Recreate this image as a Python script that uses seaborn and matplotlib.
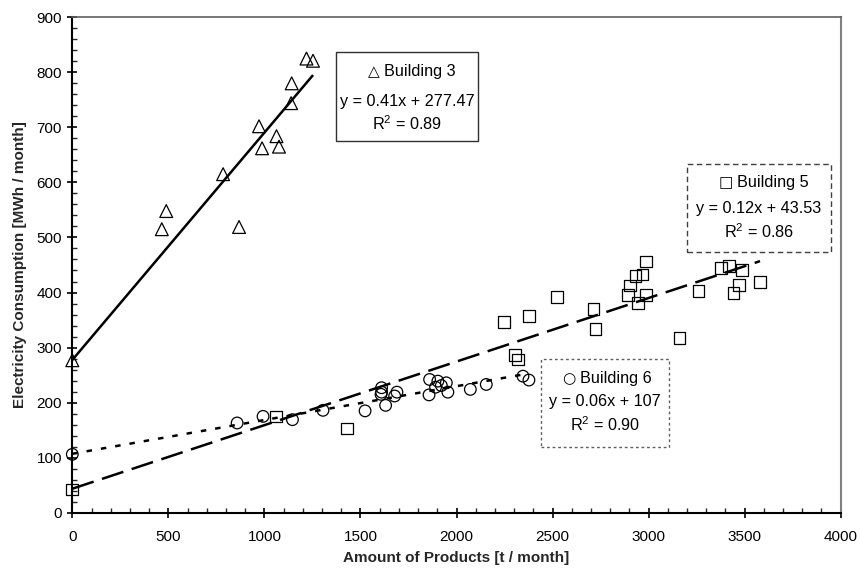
import matplotlib
matplotlib.use("Agg")
import matplotlib.pyplot as plt
import seaborn as sns
import numpy as np
import pandas as pd
from matplotlib.patches import Rectangle
from matplotlib.ticker import MultipleLocator

# ---- data ----
b3_x = [0, 466, 489, 785, 868, 972, 988, 1063, 1076, 1139, 1142, 1219, 1253]
b3_y = [277, 515, 548, 615, 519, 702, 662, 684, 665, 744, 780, 825, 821]

b5_x = [0, 1059, 1430, 2246, 2304, 2319, 2377, 2522, 2713, 2723, 2893, 2904,
        2931, 2945, 2969, 2987, 2987, 3160, 3260, 3377, 3420, 3441, 3469, 3486, 3580]
b5_y = [42, 175, 153, 346, 287, 278, 357, 392, 370, 334, 396, 413,
        430, 381, 433, 456, 395, 317, 403, 444, 448, 399, 414, 441, 419]

b6_x = [0, 858, 993, 1146, 1305, 1524, 1607, 1610, 1610, 1631, 1678, 1690,
        1857, 1860, 1891, 1903, 1921, 1947, 1955, 2072, 2155, 2346, 2377]
b6_y = [106, 163, 175, 169, 186, 185, 215, 227, 219, 195, 212, 219,
        214, 242, 228, 239, 231, 236, 219, 224, 233, 248, 241]

# trend-line coefficients as drawn in the reference (slope, intercept)
trend_slope = [0.413, 0.1155, 0.0614]
trend_icept = [277.47, 43.53, 107.0]

labels = ["Building 3", "Building 5", "Building 6"]
equations = ["y = 0.41x + 277.47", "y = 0.12x + 43.53", "y = 0.06x + 107"]
r2 = ["R$^2$ = 0.89", "R$^2$ = 0.86", "R$^2$ = 0.90"]
symbols = ["\u25b3", "\u25a1", "\u25cb"]

x_label = "Amount of Products [t / month]"
y_label = "Electricity Consumption [MWh / month]"

series_x = [b3_x, b5_x, b6_x]
series_y = [b3_y, b5_y, b6_y]

sns.set_style("white")
plt.rcParams["font.family"] = ["Liberation Sans", "DejaVu Sans"]
plt.rcParams["mathtext.default"] = "regular"

fig = plt.figure(figsize=(8.6, 5.74), dpi=100)
ax = fig.add_axes([0.08407, 0.1068, 0.8935, 0.8631])

markers = ["^", "s", "o"]
sizes = [85, 70, 70]
line_styles = [(0, ()), (0, (9, 3.5)), (0, (2.2, 3.6))]

for xs, ys, lab, mk, sz, ls, m, c in zip(series_x, series_y, labels, markers,
                                          sizes, line_styles, trend_slope, trend_icept):
    sub = pd.DataFrame({"x": xs, "y": ys})
    fx = np.array([min(xs), max(xs)], dtype=float)
    fit = pd.DataFrame({"x": fx, "y": m * fx + c})
    sns.lineplot(data=fit, x="x", y="y", ax=ax, color="black",
                 linewidth=1.8, linestyle=ls, zorder=2)
    sns.scatterplot(data=sub, x="x", y="y", ax=ax, marker=mk, s=sz,
                    facecolors="none", edgecolor="black", linewidth=0.9,
                    legend=False, zorder=3, clip_on=False)

ax.set_xlim(0, 4000)
ax.set_ylim(0, 900)
ax.xaxis.set_major_locator(MultipleLocator(500))
ax.xaxis.set_minor_locator(MultipleLocator(100))
ax.yaxis.set_major_locator(MultipleLocator(100))
ax.yaxis.set_minor_locator(MultipleLocator(20))
ax.tick_params(which="major", direction="inout", length=7, width=1.2,
               labelsize=11, colors="black", pad=4)
ax.tick_params(which="minor", direction="in", length=3.5, width=1.0)
ax.tick_params(axis="x", which="both", bottom=True)
ax.tick_params(axis="y", which="both", left=True)
ax.tick_params(axis="x", pad=9)

for side in ["left", "bottom"]:
    ax.spines[side].set_color("black")
    ax.spines[side].set_linewidth(1.5)
ax.spines["right"].set_color("#808080")
ax.spines["right"].set_linewidth(1.5)
ax.spines["top"].set_color("#606060")
ax.spines["top"].set_linewidth(1.2)

ax.set_xlabel(x_label, fontsize=11, fontweight="bold", labelpad=5)
ax.set_ylabel(y_label, fontsize=11, fontweight="bold", labelpad=7)

# annotation boxes (axes fractions)
boxes = [
    dict(x0=0.3432, y0=0.7509, x1=0.5284, y1=0.9306, ls="-", ec="#303030", lw=1.0,
         cx=0.4358, sx=0.3926, lx=0.4057, ys=[0.8896, 0.8310, 0.7846]),
    dict(x0=0.8004, y0=0.5268, x1=0.9870, y1=0.7039, ls=(0, (4, 2.5)), ec="#404040", lw=1.0,
         cx=0.8937, sx=0.8507, lx=0.8650, ys=[0.6655, 0.6147, 0.5666]),
    dict(x0=0.6096, y0=0.1320, x1=0.7769, y1=0.3109, ls=(0, (2, 2)), ec="#606060", lw=1.0,
         cx=0.6933, sx=0.6458, lx=0.6607, ys=[0.2699, 0.2235, 0.1771]),
]
for bx, lab, eq, r, sym in zip(boxes, labels, equations, r2, symbols):
    ax.add_patch(Rectangle((bx["x0"], bx["y0"]), bx["x1"] - bx["x0"], bx["y1"] - bx["y0"],
                           transform=ax.transAxes, facecolor="white",
                           edgecolor=bx["ec"], linestyle=bx["ls"], linewidth=bx["lw"],
                           zorder=4))
    ax.text(bx["sx"], bx["ys"][0], sym, transform=ax.transAxes, ha="center", va="center",
            fontsize=11, family=["DejaVu Sans"], color="black", zorder=5)
    ax.text(bx["lx"], bx["ys"][0], lab, transform=ax.transAxes, ha="left", va="center",
            fontsize=11.7, color="black", zorder=5)
    for txt, yy in zip([eq, r], bx["ys"][1:]):
        ax.text(bx["cx"], yy, txt, transform=ax.transAxes, ha="center", va="center",
                fontsize=11.7, color="black", zorder=5)

fig.savefig("out.png", dpi=100)
